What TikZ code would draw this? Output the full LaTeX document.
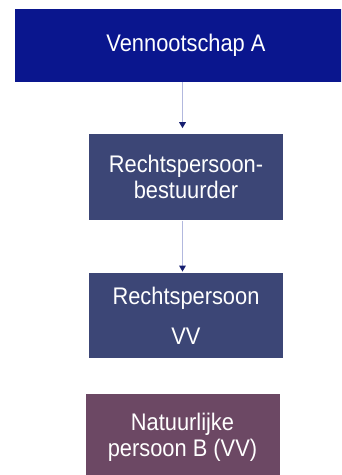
\documentclass[tikz,border=0pt]{standalone}
\usepackage{fontspec}
\setmainfont{Liberation Sans}[FakeStretch=0.91]
\usepackage{tikz}
\usetikzlibrary{arrows.meta,positioning}
\usepackage{xcolor}
\definecolor{royal}{RGB}{10,22,142}
\definecolor{slate}{RGB}{60,70,118}
\definecolor{plum}{RGB}{108,72,100}
\definecolor{lavender}{RGB}{178,184,222}
\definecolor{navy}{RGB}{22,30,112}

\begin{document}
\begin{tikzpicture}[node distance=52pt,
box/.style={inner sep=0pt,minimum width=194pt,minimum height=86pt,
align=center,text=white,font=\fontsize{24}{26}\selectfont},
link/.style={-{Triangle[length=6pt,width=6.5pt,color=navy]},draw=lavender,line width=1.8pt}]
\useasboundingbox[fill=white] (0,0) rectangle (341pt,-475pt);
\clip (0,0) rectangle (341pt,-475pt);
\node[box,fill=royal,minimum width=342pt,minimum height=73pt] (a) at (186pt,-45.5pt)
{Vennootschap A};
\node[box,fill=slate,below=of a] (b) {Rechtspersoon-\\bestuurder};
\node[box,fill=slate,below=of b,minimum height=85pt] (c) {Rechtspersoon\\[14pt]VV};
\node[box,fill=plum,below=36pt of c,xshift=-3.5pt] (d) {Natuurlijke\\persoon B (VV)};
\draw[link,shorten >=6pt] ([xshift=-3.5pt]a.south)--([xshift=-3.5pt]b.north);
\draw[link,shorten >=1pt] ([xshift=-3.5pt]b.south)--([xshift=-3.5pt]c.north);
\end{tikzpicture}
\end{document}
